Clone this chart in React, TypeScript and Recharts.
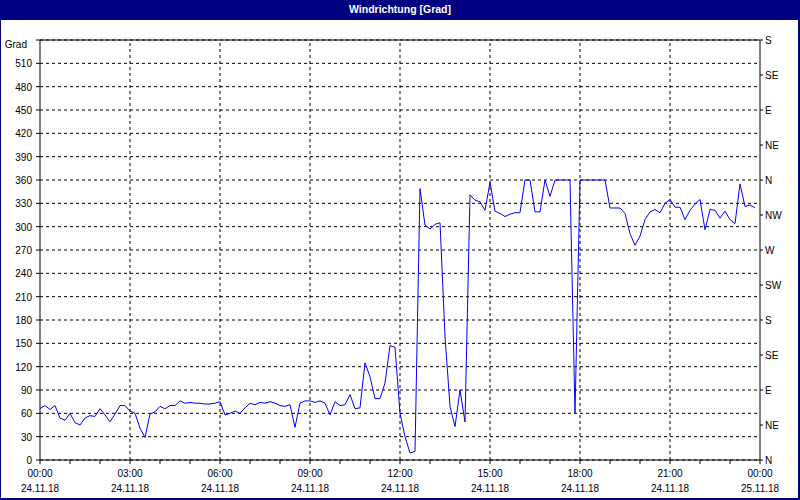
import {
  LineChart,
  Line,
  XAxis,
  YAxis,
  CartesianGrid,
  ReferenceLine,
} from "recharts";

// wind direction in degrees, one sample every 10 minutes from 00:00
const windValues: number[] = [
  66, 70, 65, 70, 54, 51, 60, 48, 45, 54, 57, 56, 66, 58, 49, 59, 70, 70, 63, 60,
  41, 29, 59, 62, 69, 66, 70, 70, 76, 73, 74, 73, 73, 72, 72, 73, 75, 58, 60, 63,
  60, 67, 73, 71, 74, 73, 75, 73, 70, 69, 71, 42, 73, 76, 76, 74, 76, 73, 58, 75,
  70, 71, 84, 66, 67, 125, 107, 79, 79, 99, 147, 145, 60, 30, 9, 11, 349, 302, 297, 303,
  305, 159, 69, 43, 90, 49, 341, 334, 332, 321, 357, 320, 317, 313, 316, 318, 318, 360, 360, 319,
  319, 360, 339, 360, 360, 360, 360, 60, 360, 360, 360, 360, 360, 360, 324, 324, 324, 317, 291, 276,
  288, 309, 319, 322, 318, 330, 335, 325, 325, 309, 321, 329, 335, 296, 322, 321, 311, 320, 309, 304,
  355, 326, 328, 324,
];

const hourTicks: number[] = [
  0, 1, 2, 3, 4, 5, 6, 7, 8, 9, 10, 11, 12, 13, 14, 15, 16, 17, 18, 19, 20, 21, 22, 23, 24,
];
const majorHours: number[] = [0, 3, 6, 9, 12, 15, 18, 21, 24];
const timeLabels: string[] = ["00:00", "03:00", "06:00", "09:00", "12:00", "15:00", "18:00", "21:00", "00:00"];
const dateLabels: string[] = [
  "24.11.18", "24.11.18", "24.11.18", "24.11.18", "24.11.18",
  "24.11.18", "24.11.18", "24.11.18", "25.11.18",
];

const gradTicks: number[] = [
  0, 30, 60, 90, 120, 150, 180, 210, 240, 270, 300, 330, 360, 390, 420, 450, 480, 510, 540,
];
const compassTicks: number[] = [0, 45, 90, 135, 180, 225, 270, 315, 360, 405, 450, 495, 540];
const compassLabels: string[] = ["N", "NE", "E", "SE", "S", "SW", "W", "NW", "N", "NE", "E", "SE", "S"];

const chartData = windValues.map((v, i) => ({ h: i / 6, deg: v }));

const font = "'Liberation Sans', Arial, sans-serif";

const TimeTick = (props: any) => {
  const { x, y, payload } = props;
  const idx = majorHours.indexOf(payload.value);
  if (idx < 0) return null;
  return (
    <g>
      <text x={x} y={y + 11} textAnchor="middle" fontSize={10} fontFamily={font} fill="#000">
        {timeLabels[idx]}
      </text>
      <text x={x} y={y + 26} textAnchor="middle" fontSize={10} fontFamily={font} fill="#000">
        {dateLabels[idx]}
      </text>
    </g>
  );
};

const GradTick = (props: any) => {
  const { x, y, payload } = props;
  const label = payload.value === 540 ? "Grad" : String(payload.value);
  const dx = payload.value === 540 ? -5 : 0;
  const dy = payload.value === 540 ? 8 : 4;
  return (
    <text x={x + dx} y={y + dy} textAnchor="end" fontSize={10} fontFamily={font} fill="#000">
      {label}
    </text>
  );
};

const compassName = (v: number) => {
  const idx = compassTicks.indexOf(Math.round(v));
  return idx >= 0 ? compassLabels[idx] : "";
};

export default function App() {
  return (
    <div
      style={{
        position: "absolute",
        left: 0,
        top: 0,
        width: 800,
        height: 500,
        background: "#ffffff",
        overflow: "hidden",
      }}
    >
      <div
        style={{
          position: "absolute",
          left: 0,
          top: 0,
          width: 800,
          height: 20,
          background: "#000080",
          color: "#fff",
          fontFamily: font,
          fontWeight: "bold",
          fontSize: 10.5,
          lineHeight: "19px",
          textAlign: "center",
        }}
      >
        Windrichtung [Grad]
      </div>
      <div style={{ position: "absolute", left: 0, top: 20, width: 1, height: 480, background: "#000080" }} />
      <div style={{ position: "absolute", right: 0, top: 20, width: 2, height: 480, background: "#000080" }} />
      <div style={{ position: "absolute", left: 0, bottom: 0, width: 800, height: 2, background: "#000080" }} />

      <div style={{ position: "absolute", left: 0, top: 0 }}>
        <LineChart
          width={800}
          height={500}
          data={chartData}
          margin={{ top: 40, right: 0, bottom: 0, left: 0 }}
        >
          <CartesianGrid
            yAxisId="left"
            vertical={false}
            stroke="#000"
            strokeDasharray="3 3"
          />
          {majorHours.slice(1, -1).map((h) => (
            <ReferenceLine
              key={`v-${h}`}
              x={h}
              yAxisId="left"
              stroke="#000"
              strokeDasharray="3 3"
            />
          ))}
          <ReferenceLine y={540} yAxisId="left" stroke="#000" />
          <XAxis
            dataKey="h"
            type="number"
            domain={[0, 24]}
            ticks={hourTicks}
            interval={0}
            height={40}
            tickSize={4}
            tickMargin={2}
            stroke="#000"
            tick={<TimeTick />}
          />
          <YAxis
            yAxisId="left"
            type="number"
            domain={[0, 540]}
            ticks={gradTicks}
            interval={0}
            width={40}
            tickSize={4}
            tickMargin={4}
            stroke="#000"
            tick={<GradTick />}
          />
          <YAxis
            yAxisId="right"
            orientation="right"
            type="number"
            domain={[0, 540]}
            ticks={compassTicks}
            interval={0}
            width={40}
            tickSize={3}
            tickMargin={2}
            stroke="#000"
            tickFormatter={compassName}
            tick={{ fontSize: 10, fontFamily: font, fill: "#000", textAnchor: "start" }}
          />
          <Line
            yAxisId="right"
            type="linear"
            dataKey="deg"
            stroke="none"
            dot={false}
            activeDot={false}
            legendType="none"
            isAnimationActive={false}
          />
          <Line
            yAxisId="left"
            type="linear"
            dataKey="deg"
            stroke="#0000ff"
            strokeWidth={1}
            dot={false}
            isAnimationActive={false}
          />
        </LineChart>
      </div>
    </div>
  );
}
